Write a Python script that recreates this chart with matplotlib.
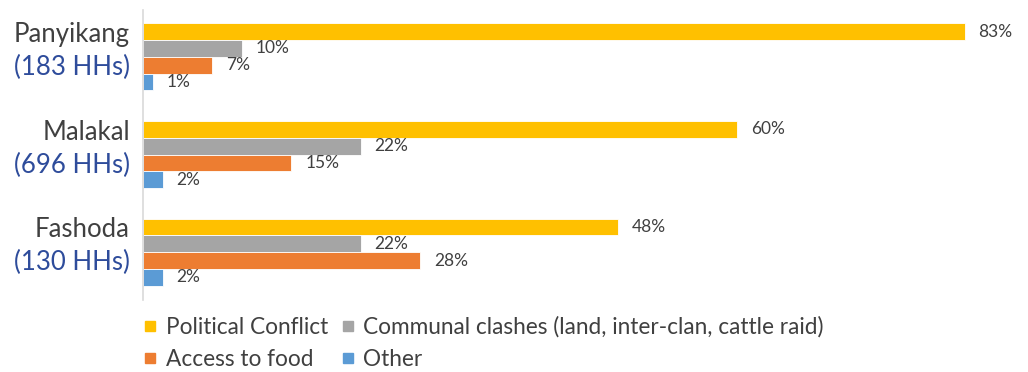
import numpy as np
import matplotlib.pyplot as plt
from matplotlib.lines import Line2D

# data
counties = ['Panyikang', 'Malakal', 'Fashoda']
households = ['(183 HHs)', '(696 HHs)', '(130 HHs)']
series = ['Political Conflict', 'Communal clashes (land, inter-clan, cattle raid)',
          'Access to food', 'Other']
political = [83, 60, 48]
communal = [10, 22, 22]
food = [7, 15, 28]
other = [1, 2, 2]
colors = ['#FFC000', '#A5A5A5', '#ED7D31', '#5B9BD5']

plt.rcParams['font.family'] = ['Lato', 'DejaVu Sans']

fig = plt.figure(figsize=(10.28, 3.72), dpi=100)
ax = fig.add_axes([143 / 1028, 72 / 372, (1020 - 143) / 1028, 290 / 372])

y = np.arange(len(counties))
h = 0.172
values = [political, communal, food, other]
for i, (vals, c) in enumerate(zip(values, colors)):
    pos = y - 1.5 * h + i * h
    ax.barh(pos, vals, height=h, color=c, edgecolor='white', linewidth=0.6)
    for p, v in zip(pos, vals):
        ax.annotate(f'{v}%', (v, p), xytext=(10, 0), textcoords='offset points',
                    va='center', ha='left', fontsize=12.5, color='#404040')

ax.set_xlim(0, 88.6)
ax.set_ylim(2.49, -0.48)
ax.set_xticks([])
ax.set_yticks([])
for s in ['top', 'right', 'bottom']:
    ax.spines[s].set_visible(False)
ax.spines['left'].set_color('#D9D9D9')
ax.spines['left'].set_linewidth(1.2)

trans = ax.get_yaxis_transform()
for yi, name, hh in zip(y, counties, households):
    ax.text(-0.015, yi - 0.23, name, transform=trans, ha='right', va='center',
            fontsize=18.5, color='#404040')
    ax.text(-0.015, yi + 0.11, hh, transform=trans, ha='right', va='center',
            fontsize=18.5, color='#2E4C9B')

order = [0, 2, 1, 3]
handles = [Line2D([], [], marker='s', linestyle='none', markersize=7,
                  color=colors[k]) for k in order]
fig.legend(handles, [series[k] for k in order], ncol=2, frameon=False,
           loc='lower left', bbox_to_anchor=(122 / 1028, -0.05),
           fontsize=16.3, labelcolor='#404040', handlelength=0.7,
           handletextpad=0.35, columnspacing=0.5, labelspacing=0.5)

fig.savefig('out.png', dpi=100, facecolor='white')
